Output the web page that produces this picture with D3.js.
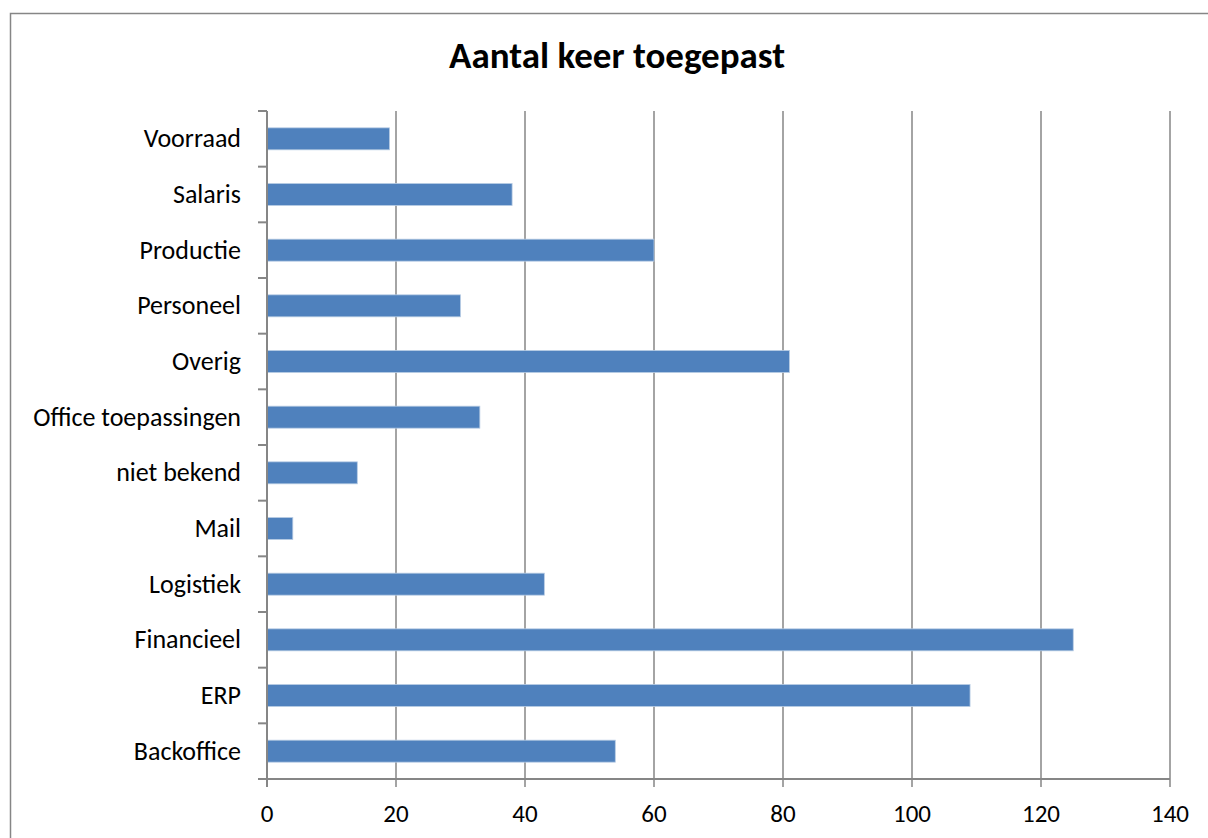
<!DOCTYPE html>
<html>
<head>
<meta charset="utf-8">
<script src="https://cdn.jsdelivr.net/npm/d3@7"></script>
<style>
  html, body { margin: 0; padding: 0; background: #fff; }
  svg { display: block; }
  text { font-family: Carlito, Calibri, Lato, "Open Sans", sans-serif; fill: #000; }
</style>
</head>
<body>
<svg id="chart" width="1208" height="838"></svg>
<script>
// Categories listed top to bottom
const categories = ["Voorraad", "Salaris", "Productie", "Personeel", "Overig",
  "Office toepassingen", "niet bekend", "Mail", "Logistiek", "Financieel", "ERP", "Backoffice"];
const counts = [19, 38, 60, 30, 81, 33, 14, 4, 43, 125, 109, 54];
const xTicks = [0, 20, 40, 60, 80, 100, 120, 140];
const title = "Aantal keer toegepast";

const svg = d3.select("#chart");
const gridColor = "#868686";
const barColor = "#4F81BD";

// outer chart frame
svg.append("rect")
  .attr("x", 10.5).attr("y", 13.5)
  .attr("width", 1210).attr("height", 840)
  .attr("fill", "#fff")
  .attr("stroke", gridColor).attr("stroke-width", 1.5);

const plot = { left: 267, right: 1170, top: 111, bottom: 779 };

const x = d3.scaleLinear().domain([0, 140]).range([plot.left, plot.right]);
const y = d3.scaleBand().domain(categories).range([plot.top, plot.bottom])
  .paddingInner(0.605).paddingOuter(0.3025);

// vertical gridlines, extended below the axis as tick marks
svg.append("g").selectAll("line")
  .data(xTicks.filter(t => t > 0))
  .join("line")
  .attr("x1", d => x(d)).attr("x2", d => x(d))
  .attr("y1", plot.top).attr("y2", plot.bottom + 8)
  .attr("stroke", gridColor).attr("stroke-width", 1.5);

// bars
svg.append("g").selectAll("rect")
  .data(categories.map((c, i) => ({ c, v: counts[i] })))
  .join("rect")
  .attr("x", x(0))
  .attr("y", d => y(d.c))
  .attr("width", d => x(d.v) - x(0))
  .attr("height", y.bandwidth())
  .attr("fill", barColor)
  .attr("stroke", "#b8cce4").attr("stroke-width", 0.8);

// category axis (left) with ticks at band boundaries
const step = (plot.bottom - plot.top) / categories.length;
const boundaries = d3.range(categories.length + 1).map(i => plot.top + i * step);
svg.append("line")
  .attr("x1", plot.left).attr("x2", plot.left)
  .attr("y1", plot.top).attr("y2", plot.bottom + 8)
  .attr("stroke", gridColor).attr("stroke-width", 2);
svg.append("g").selectAll("line")
  .data(boundaries)
  .join("line")
  .attr("x1", plot.left - 9).attr("x2", plot.left)
  .attr("y1", d => d).attr("y2", d => d)
  .attr("stroke", gridColor).attr("stroke-width", 2);

// value axis (bottom)
svg.append("line")
  .attr("x1", plot.left - 9).attr("x2", plot.right)
  .attr("y1", plot.bottom).attr("y2", plot.bottom)
  .attr("stroke", gridColor).attr("stroke-width", 2);

svg.append("g").selectAll("text")
  .data(xTicks)
  .join("text")
  .attr("x", d => x(d))
  .attr("y", 822)
  .attr("text-anchor", "middle")
  .attr("font-size", 25)
  .text(d => d);

// category labels
svg.append("g").selectAll("text")
  .data(categories)
  .join("text")
  .attr("x", 241)
  .attr("y", d => y(d) + y.bandwidth() / 2 + 8.5)
  .attr("text-anchor", "end")
  .attr("font-size", 26)
  .text(d => d);

// title
svg.append("text")
  .attr("x", 617).attr("y", 68)
  .attr("text-anchor", "middle")
  .attr("font-size", 37)
  .attr("font-weight", "bold")
  .text(title);
</script>
</body>
</html>
